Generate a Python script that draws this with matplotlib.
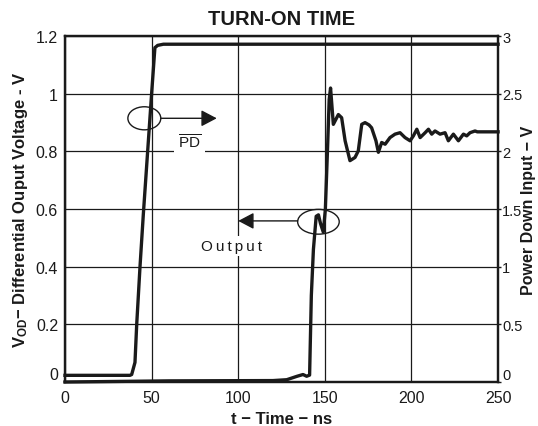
import matplotlib
matplotlib.use("Agg")
import matplotlib.pyplot as plt
from matplotlib.patches import Ellipse

plt.rcParams['font.family'] = ['Liberation Sans', 'DejaVu Sans']
plt.rcParams['mathtext.fontset'] = 'custom'
plt.rcParams['mathtext.rm'] = 'Liberation Sans'
plt.rcParams['mathtext.bf'] = 'Liberation Sans:bold'
plt.rcParams['mathtext.it'] = 'Liberation Sans:italic'

# power down input (right axis, V)
pd_t = [0, 37.5, 38.5, 40.4, 41.4, 43.3, 45.2, 50.0, 51.9, 53.5, 56.8, 250]
pd_v = [0.058, 0.058, 0.065, 0.17, 0.5, 1.0, 1.45, 2.5, 2.9, 2.92, 2.93, 2.93]

# differential output voltage (left axis, V)
out_t = [0, 60, 120, 128, 134, 137.4, 139.5, 141.2, 142.2, 143.4, 145, 146.3,
         147.5, 149.1, 150.3, 151.5, 152.5, 153.3, 154.9, 157.8, 159.7, 161.7,
         164.5, 167.4, 169.3, 171.3, 173.2, 175.5, 177, 179.5, 180.9, 182.8,
         184.8, 187.6, 190.5, 193.4, 196.3, 199.2, 201.1, 203.1, 205, 207.9,
         209.8, 211.7, 213.6, 216.5, 219.4, 221.3, 224.2, 227.1, 230, 231.9,
         233.8, 236.7, 238, 250]
out_v = [0.0, 0.004, 0.005, 0.008, 0.02, 0.026, 0.02, 0.024, 0.3, 0.46, 0.575,
         0.58, 0.55, 0.52, 0.6, 0.8, 0.98, 1.02, 0.894, 0.928, 0.917, 0.837,
         0.768, 0.779, 0.802, 0.894, 0.90, 0.892, 0.882, 0.837, 0.797, 0.831,
         0.825, 0.848, 0.860, 0.865, 0.848, 0.837, 0.854, 0.877, 0.848, 0.865,
         0.877, 0.860, 0.871, 0.860, 0.865, 0.837, 0.860, 0.837, 0.860, 0.854,
         0.865, 0.871, 0.868, 0.868]

x_ticks = [0, 50, 100, 150, 200, 250]
left_ticks = [0, 0.2, 0.4, 0.6, 0.8, 1.0, 1.2]
left_labels = ['0', '0.2', '0.4', '0.6', '0.8', '1', '1.2']
right_ticks = [0, 0.5, 1, 1.5, 2, 2.5, 3]
right_labels = ['0', '0.5', '1', '1.5', '2', '2.5', '3']

ink = '#1a1a1a'

fig = plt.figure(figsize=(5.38, 4.27), dpi=100)
ax = fig.add_axes([0.1208, 0.103, 0.805, 0.810])
ax2 = ax.twinx()

ax.set_xlim(0, 250)
ax.set_ylim(0, 1.2)
ax2.set_ylim(0, 3)

ax.set_xticks(x_ticks)
ax.set_xticklabels([str(v) for v in x_ticks])
ax.set_yticks(left_ticks)
ax.set_yticklabels(left_labels)
ax2.set_yticks(right_ticks)
ax2.set_yticklabels(right_labels)

ax.grid(True, color=ink, linewidth=0.9)
ax.set_axisbelow(True)
ax.tick_params(length=0, labelsize=11.5, pad=5, colors=ink)
ax.tick_params(axis='x', pad=6)
ax2.tick_params(length=2, width=1, labelsize=10.5, pad=1, colors=ink)

for a in (ax, ax2):
    for s in a.spines.values():
        s.set_linewidth(1.6)
        s.set_color(ink)

# lift the zero labels off the bottom edge
ax.get_yticklabels()[0].set_va('bottom')
ax2.get_yticklabels()[0].set_va('bottom')

ax.plot(out_t, out_v, color=ink, linewidth=2.4, clip_on=False, zorder=3)
ax2.plot(pd_t, pd_v, color=ink, linewidth=2.4, clip_on=False, zorder=3)

# annotations
ax.add_patch(Ellipse((45.8, 0.915), 19, 0.08, fill=False, edgecolor=ink, linewidth=1.0, zorder=4))
ax.annotate('', xy=(87.6, 0.915), xytext=(55.3, 0.915),
            arrowprops=dict(arrowstyle='-|>,head_length=0.95,head_width=0.5',
                            color=ink, lw=1.0, shrinkA=0, shrinkB=0, mutation_scale=10))
ax.text(72, 0.835, r'$\overline{\mathrm{PD}}$', fontsize=11, ha='center', va='center',
        color=ink, bbox=dict(facecolor='white', edgecolor='none', pad=3), zorder=2)

ax.add_patch(Ellipse((146.3, 0.556), 24, 0.086, fill=False, edgecolor=ink, linewidth=1.0, zorder=4))
ax.annotate('', xy=(100, 0.559), xytext=(134.3, 0.559),
            arrowprops=dict(arrowstyle='-|>,head_length=0.95,head_width=0.5',
                            color=ink, lw=1.0, shrinkA=0, shrinkB=0, mutation_scale=10))
ax.text(96, 0.472, 'O\u2009u\u2009t\u2009p\u2009u\u2009t', fontsize=11, ha='center', va='center',
        color=ink, bbox=dict(facecolor='white', edgecolor='none', pad=2), zorder=2)

ax.set_title('TURN-ON TIME', fontsize=14.5, fontweight='bold', color=ink, pad=9)
ax.set_xlabel('t \u2212 Time \u2212 ns', fontsize=12, fontweight='bold', color=ink, labelpad=4)
ax.set_ylabel('V$_{\\mathbf{OD}}$\u2212 Differential Ouput Voltage - V',
              fontsize=12, fontweight='bold', color=ink, labelpad=4)
ax2.set_ylabel('Power Down Input \u2212 V', fontsize=11.5, fontweight='bold', color=ink,
               rotation=90, va='center', ha='center')
ax2.yaxis.set_label_coords(1.0705, 0.5)

fig.savefig('out.png', dpi=100)
